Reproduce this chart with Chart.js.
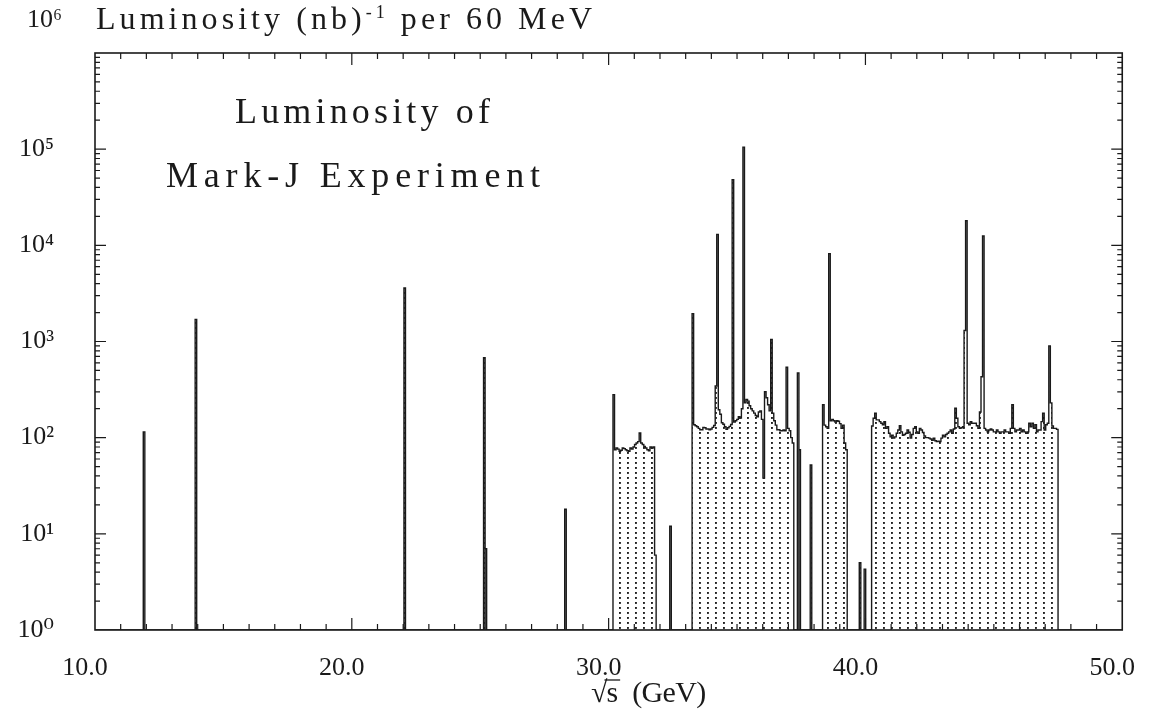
<!DOCTYPE html>
<html>
<head>
<meta charset="utf-8">
<script src="https://cdn.jsdelivr.net/npm/chart.js@4.4.0/dist/chart.umd.min.js"></script>
<style>
  html, body { margin: 0; padding: 0; background: #fff; }
  #wrap { width: 1160px; height: 715px; }
</style>
</head>
<body>
<div id="wrap"><canvas id="lumiChart" width="1160" height="715"></canvas></div>
<script>
// Luminosity (nb)^-1 per 60 MeV bin
const binGeV = 0.06;

// isolated single bins
const spikeEnergy = [11.88, 13.90, 22.03, 25.13, 25.19, 28.29, 32.38, 37.35, 37.41, 37.85, 39.76, 39.95];
const spikeLumi   = [115, 1700, 3600, 680, 7, 18, 12, 470, 75, 52, 5, 4.3];

// running periods: energy of the first bin, then one value per bin
const bandStart = [30.17, 33.25, 38.33, 40.24];
const band1 = [280, 75, 78, 76, 72, 74, 78, 77, 75, 73, 72, 78, 76, 80, 85, 88, 91, 112, 88, 85,
               81, 78, 75, 73, 80, 78, 80, 6];
const band2 = [1950, 136, 133, 130, 125, 121, 121, 128, 127, 123,
               123, 121, 123, 128, 134, 345, 13000, 195, 175, 143,
               138, 130, 122, 127, 131, 137, 48000, 145, 150, 155,
               165, 160, 200, 105000, 230, 250, 240, 215, 200, 190,
               180, 170, 165, 185, 190, 155, 38, 300, 260, 220,
               190, 1050, 180, 150, 135, 121, 121, 118, 118, 120,
               118, 540, 125, 118, 100, 88];
const band3 = [220, 135, 130, 125, 8200, 150, 155, 150, 145, 150, 148, 140, 125, 135, 88, 75];
const band4 = [132, 159, 180, 153, 153, 147, 141, 136, 147, 125,
               130, 111, 102, 106, 99, 102, 111, 120, 133, 115,
               106, 108, 111, 120, 114, 99, 108, 125, 130, 115,
               111, 125, 120, 113, 104, 100, 100, 99, 97, 94,
               99, 93, 91, 92, 91, 99, 106, 102, 108, 111,
               115, 120, 111, 123, 202, 159, 130, 125, 127, 130,
               1300, 18000, 141, 136, 147, 141, 141, 141, 133, 125,
               185, 430, 12500, 125, 120, 115, 120, 123, 120, 115,
               115, 120, 115, 111, 115, 115, 120, 115, 115, 111,
               125, 220, 125, 115, 120, 120, 125, 115, 120, 115,
               111, 115, 141, 130, 141, 125, 136, 115, 120, 120,
               147, 180, 120, 136, 141, 900, 230, 132, 125, 125, 122];

const xTicks = [10, 20, 30, 40, 50];
const yTicks = [1, 10, 100, 1e3, 1e4, 1e5, 1e6];
const supDigits = ['⁰', '¹', '²', '³', '⁴', '⁵', '⁶'];

// stitch runs into one stepped histogram, empty bins sit on 10^0
const runs = [];
spikeEnergy.forEach((e, i) => runs.push({ start: e, vals: [spikeLumi[i]] }));
[band1, band2, band3, band4].forEach((b, i) => runs.push({ start: bandStart[i], vals: b }));
runs.sort((a, b) => a.start - b.start);

const histPoints = [{ x: 10, y: 1 }];
runs.forEach(r => {
    r.vals.forEach((v, i) => histPoints.push({ x: r.start + i * binGeV, y: v }));
    histPoints.push({ x: r.start + r.vals.length * binGeV, y: 1 });
});
histPoints.push({ x: 50, y: 1 });

const serif = "'Liberation Serif', 'DejaVu Serif', serif";
const ink = '#1a1a1a';
const labelFont = '26px ' + serif;

const canvas = document.getElementById('lumiChart');
const ctx = canvas.getContext('2d');

// dotted shading of the running periods
const tile = document.createElement('canvas');
tile.width = 8;
tile.height = 5;
const tctx = tile.getContext('2d');
tctx.fillStyle = '#1e1e1e';
tctx.fillRect(3, 2, 1.9, 1.9);
const dotPattern = ctx.createPattern(tile, 'repeat');

// text drawn with spacing stretched to a given width
function spacedText(c, parts, x, baseline, width) {
    c.letterSpacing = '0px';
    let natural = 0, chars = 0;
    parts.forEach(p => { c.font = p.font; natural += c.measureText(p.text).width; chars += p.text.length; });
    const gap = (width - natural) / (chars - 1);
    let cx = x;
    parts.forEach(p => {
        c.font = p.font;
        const w = c.measureText(p.text).width;
        c.letterSpacing = gap + 'px';
        c.fillText(p.text, cx, baseline - (p.rise || 0));
        c.letterSpacing = '0px';
        cx += w + gap * p.text.length;
    });
}

const framePlugin = {
    id: 'frameTicks',
    afterDatasetsDraw(chart) {
        const { ctx: c, chartArea: a, scales: { x, y } } = chart;
        c.save();
        c.strokeStyle = ink;
        c.lineWidth = 1.6;
        c.strokeRect(a.left, a.top, a.right - a.left, a.bottom - a.top);
        c.lineWidth = 1.2;
        c.beginPath();
        for (let e = 11; e < 50; e++) {
            const px = x.getPixelForValue(e);
            const len = e % 10 === 0 ? 12 : 6;
            c.moveTo(px, a.bottom); c.lineTo(px, a.bottom - len);
            c.moveTo(px, a.top); c.lineTo(px, a.top + len);
        }
        for (let p = 0; p < 6; p++) {
            for (let k = 1; k <= 9; k++) {
                if (p === 0 && k === 1) continue;
                const py = y.getPixelForValue(k * Math.pow(10, p));
                const len = k === 1 ? 11 : 5;
                c.moveTo(a.left, py); c.lineTo(a.left + len, py);
                c.moveTo(a.right, py); c.lineTo(a.right - len, py);
            }
        }
        c.stroke();
        c.restore();
    }
};

const textPlugin = {
    id: 'plotText',
    afterDraw(chart) {
        const { ctx: c, chartArea: a } = chart;
        c.save();
        c.fillStyle = ink;
        c.textBaseline = 'alphabetic';
        c.textAlign = 'left';
        spacedText(c, [
            { text: 'Luminosity (nb)', font: '32px ' + serif },
            { text: '-1', font: '18px ' + serif, rise: 11 },
            { text: ' per 60 MeV', font: '32px ' + serif }
        ], a.left + 1, 29, 496);
        spacedText(c, [{ text: 'Luminosity of', font: '36px ' + serif }], 235, 123, 255);
        spacedText(c, [{ text: 'Mark-J Experiment', font: '36px ' + serif }], 166, 187, 374);

        // top decade label sits level with the heading
        c.font = labelFont;
        c.textAlign = 'right';
        c.textBaseline = 'middle';
        c.fillText('10' + supDigits[6], a.left - 33, 20);

        // axis title: root s (GeV)
        c.textAlign = 'left';
        c.textBaseline = 'alphabetic';
        c.font = '30px ' + serif;
        const x0 = 591, base = 702;
        c.fillText('√', x0, base);
        const rw = c.measureText('√').width;
        c.fillText('s', x0 + rw - 1, base);
        const sw = c.measureText('s').width;
        c.lineWidth = 1.3;
        c.strokeStyle = ink;
        c.beginPath();
        c.moveTo(x0 + rw - 3, base - 22);
        c.lineTo(x0 + rw + sw + 1, base - 22);
        c.stroke();
        spacedText(c, [{ text: '(GeV)', font: '30px ' + serif }], x0 + rw + sw + 13, base, 74);
        c.restore();
    }
};

new Chart(ctx, {
    type: 'line',
    data: {
        datasets: [{
            data: histPoints,
            stepped: 'before',
            borderColor: ink,
            borderWidth: 1.4,
            pointRadius: 0,
            fill: 'start',
            backgroundColor: dotPattern
        }]
    },
    options: {
        responsive: false,
        animation: false,
        events: [],
        layout: { padding: { top: 53, right: 18, left: 0, bottom: 0 } },
        plugins: { legend: { display: false }, tooltip: { enabled: false }, title: { display: false } },
        scales: {
            x: {
                type: 'linear',
                min: 10,
                max: 50,
                grid: { display: false },
                border: { display: false },
                afterBuildTicks: s => { s.ticks = xTicks.map(v => ({ value: v })); },
                afterFit: s => { s.height = 85; },
                ticks: {
                    autoSkip: false,
                    maxRotation: 0,
                    padding: 15,
                    labelOffset: -10,
                    color: ink,
                    font: { family: serif, size: 26 },
                    callback: v => v.toFixed(1)
                }
            },
            y: {
                type: 'logarithmic',
                min: 1,
                max: 1e6,
                grid: { display: false },
                border: { display: false },
                afterBuildTicks: s => { s.ticks = yTicks.map(v => ({ value: v })); },
                afterFit: s => { s.width = 95; },
                ticks: {
                    padding: 33,
                    color: ink,
                    font: { family: serif, size: 26 },
                    callback: v => v >= 1e6 ? '' : '10' + supDigits[Math.round(Math.log10(v))]
                }
            }
        }
    },
    plugins: [framePlugin, textPlugin]
});
</script>
</body>
</html>
